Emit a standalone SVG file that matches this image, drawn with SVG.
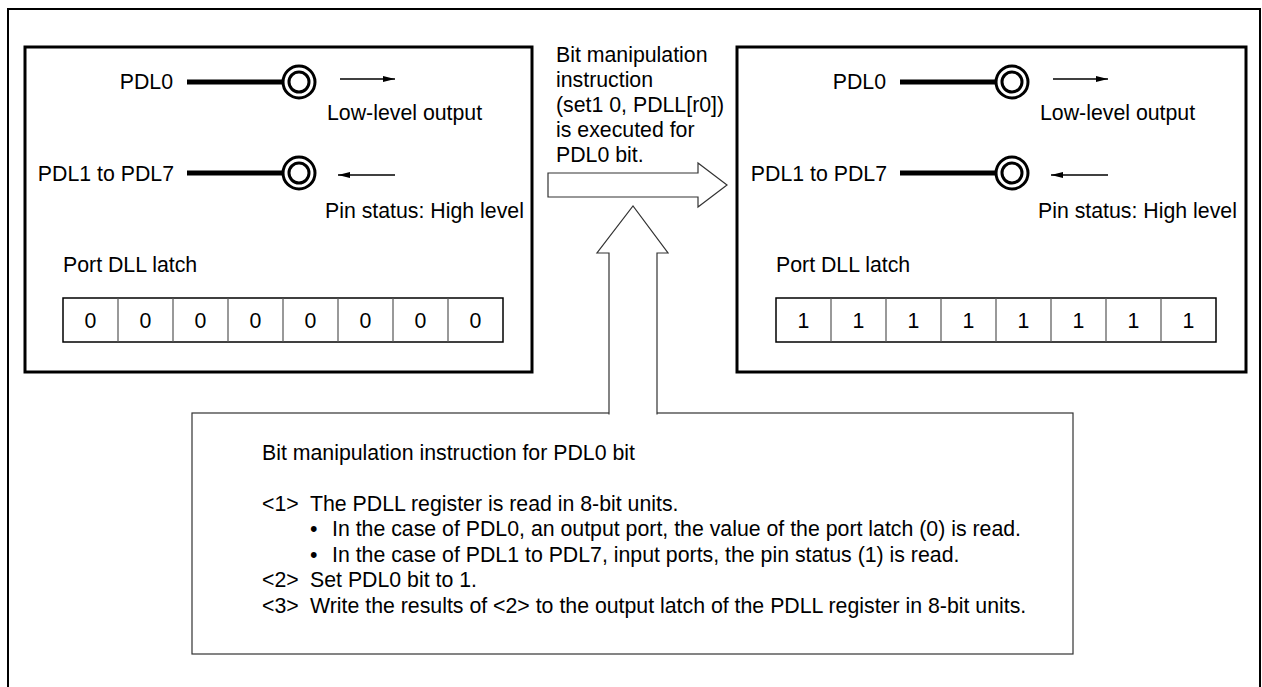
<svg xmlns="http://www.w3.org/2000/svg" width="1262" height="687" viewBox="0 0 1262 687">
<style>
text{font-family:"Liberation Sans",Arial,Helvetica,sans-serif;font-size:21.3px;fill:#000}
.c{text-anchor:middle}
.e{text-anchor:end}
.box{fill:#fff;stroke:#000;stroke-width:3}
.wire{stroke:#000;stroke-width:5;fill:none}
.pin{fill:#fff;stroke:#000;stroke-width:3}
.dir{stroke:#000;stroke-width:1.3;fill:none;marker-end:url(#ah)}
.reg{fill:#fff;stroke:#000;stroke-width:1.5}
.div{stroke:#555;stroke-width:1.2}
.thin{fill:#fff;stroke:#333;stroke-width:1.2}
</style>
<defs>
<marker id="ah" markerUnits="userSpaceOnUse" markerWidth="12" markerHeight="6" refX="12" refY="3" orient="auto">
<path d="M0,0 L12,3 L0,6 Z" fill="#000"/>
</marker>
<g id="port">
<text x="173" y="89" class="e">PDL0</text>
<line x1="187" y1="82" x2="283" y2="82" class="wire"/>
<circle cx="299" cy="82" r="16" class="pin"/>
<circle cx="299" cy="82" r="10" class="pin"/>
<line x1="340" y1="79" x2="395" y2="79" class="dir"/>
<text x="327" y="120">Low-level output</text>
<text x="174" y="181" class="e">PDL1 to PDL7</text>
<line x1="187" y1="173" x2="283" y2="173" class="wire"/>
<circle cx="299" cy="173" r="16" class="pin"/>
<circle cx="299" cy="173" r="10" class="pin"/>
<line x1="395" y1="175" x2="338" y2="175" class="dir"/>
<text x="325" y="218">Pin status: High level</text>
<text x="63" y="272">Port DLL latch</text>
<rect x="63" y="298" width="440" height="44" class="reg"/>
<line x1="118" y1="298" x2="118" y2="342" class="div"/>
<line x1="173" y1="298" x2="173" y2="342" class="div"/>
<line x1="228" y1="298" x2="228" y2="342" class="div"/>
<line x1="283" y1="298" x2="283" y2="342" class="div"/>
<line x1="338" y1="298" x2="338" y2="342" class="div"/>
<line x1="393" y1="298" x2="393" y2="342" class="div"/>
<line x1="448" y1="298" x2="448" y2="342" class="div"/>
</g>
</defs>

<g id="frame">
<path d="M8,690 V9 H1260 V690" fill="none" stroke="#000" stroke-width="2"/>
</g>

<g id="before-state">
<rect x="25" y="47" width="507" height="325" class="box"/>
<use href="#port"/>
<text x="90.5" y="328" class="c">0</text>
<text x="145.5" y="328" class="c">0</text>
<text x="200.5" y="328" class="c">0</text>
<text x="255.5" y="328" class="c">0</text>
<text x="310.5" y="328" class="c">0</text>
<text x="365.5" y="328" class="c">0</text>
<text x="420.5" y="328" class="c">0</text>
<text x="475.5" y="328" class="c">0</text>
</g>

<g id="after-state">
<rect x="737" y="47" width="509" height="325" class="box"/>
<use href="#port" x="713"/>
<text x="803.5" y="328" class="c">1</text>
<text x="858.5" y="328" class="c">1</text>
<text x="913.5" y="328" class="c">1</text>
<text x="968.5" y="328" class="c">1</text>
<text x="1023.5" y="328" class="c">1</text>
<text x="1078.5" y="328" class="c">1</text>
<text x="1133.5" y="328" class="c">1</text>
<text x="1188.5" y="328" class="c">1</text>
</g>

<g id="instruction-label">
<text x="556" y="62">Bit manipulation</text>
<text x="556" y="87">instruction</text>
<text x="556" y="112">(set1 0, PDLL[r0])</text>
<text x="556" y="137">is executed for</text>
<text x="556" y="162">PDL0 bit.</text>
</g>

<g id="note">
<rect x="192" y="413" width="881" height="241" class="thin"/>
<text x="262" y="460">Bit manipulation instruction for PDL0 bit</text>
<text x="262" y="510.5">&lt;1&gt;</text>
<text x="310" y="510.5">The PDLL register is read in 8-bit units.</text>
<text x="310" y="536">•</text>
<text x="332" y="536">In the case of PDL0, an output port, the value of the port latch (0) is read.</text>
<text x="310" y="561.5">•</text>
<text x="332" y="561.5">In the case of PDL1 to PDL7, input ports, the pin status (1) is read.</text>
<text x="262" y="587">&lt;2&gt;</text>
<text x="310" y="587">Set PDL0 bit to 1.</text>
<text x="262" y="612.5">&lt;3&gt;</text>
<text x="310" y="612.5">Write the results of &lt;2&gt; to the output latch of the PDLL register in 8-bit units.</text>
</g>

<g id="connectors">
<path d="M548,173 H698 V163 L727,185 L698,207 V197 H548 Z" class="thin"/>
<polyline points="609,414.5 609,253 597,253 633,206 668,253 657,253 657,414.5" class="thin"/>
</g>
</svg>
